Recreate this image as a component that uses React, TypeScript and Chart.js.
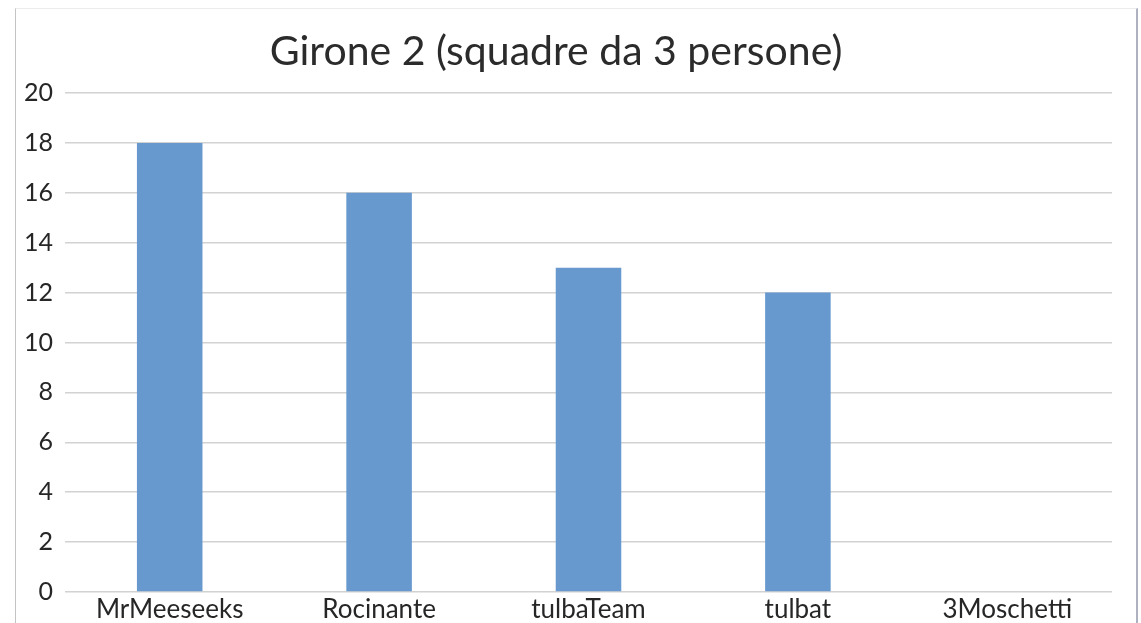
import React, { useEffect, useRef } from "react";
import { Chart, registerables } from "chart.js";

Chart.register(...registerables);

const categories = ["MrMeeseeks", "Rocinante", "tulbaTeam", "tulbat", "3Moschetti"];
const points = [18, 16, 13, 12, 0];
const titleText = "Girone 2 (squadre da 3 persone)";

export default function App() {
  const ref = useRef<HTMLCanvasElement | null>(null);
  useEffect(() => {
    if (!ref.current) return;
    const chart = new Chart(ref.current, {
      type: "bar",
      data: {
        labels: categories,
        datasets: [
          {
            data: points,
            backgroundColor: "#6799cf",
            borderWidth: 0,
            categoryPercentage: 1,
            barPercentage: 0.313,
          },
        ],
      },
      options: {
        animation: false,
        responsive: false,
        maintainAspectRatio: false,
        layout: { padding: { left: 0, right: 29, top: 0, bottom: 0 } },
        plugins: {
          legend: { display: false },
          tooltip: { enabled: false },
          title: {
            display: true,
            text: titleText,
            color: "#2b2b2b",
            font: { family: "Lato", size: 41, weight: "normal", lineHeight: 1.2 },
            padding: { top: 27.4, bottom: 16.4 },
          },
        },
        scales: {
          x: {
            grid: { display: false, drawTicks: false },
            border: { display: false },
            ticks: {
              color: "#262626",
              font: { family: "Lato", size: 26, lineHeight: 1.2 },
              padding: 2,
              maxRotation: 0,
              autoSkip: false,
            },
            afterFit: (s: any) => {
              s.height = 31;
            },
          },
          y: {
            min: 0,
            max: 20,
            ticks: {
              stepSize: 2,
              color: "#262626",
              font: { family: "Lato", size: 25, lineHeight: 1.2 },
              padding: 12,
            },
            grid: { color: "#d2d2d2", lineWidth: 1.5, drawTicks: false },
            border: { display: false },
            afterFit: (s: any) => {
              s.width = 65;
            },
          },
        },
      },
    });
    return () => chart.destroy();
  }, []);
  return (
    <div style={{ position: "absolute", left: 0, top: 0, width: 1141, height: 623, background: "#fff", overflow: "hidden" }}>
      <div
        style={{
          position: "absolute",
          left: 15,
          top: 8,
          width: 1120,
          height: 640,
          borderLeft: "1px solid #c4c4c4",
          borderTop: "1px solid #ececec",
          borderRight: "2px solid #aeb1bf",
        }}
      />
      <canvas ref={ref} width={1141} height={623} style={{ position: "absolute", left: 0, top: 0 }} />
    </div>
  );
}
